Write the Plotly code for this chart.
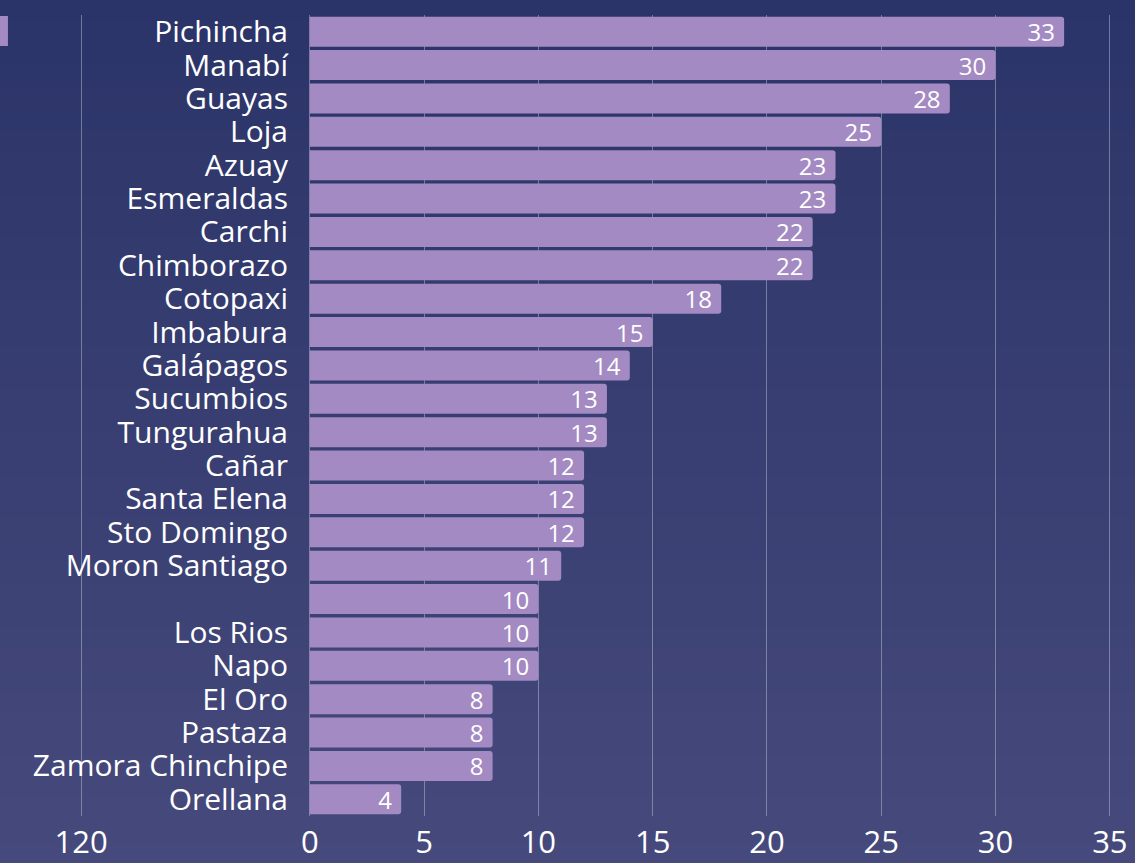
import plotly.graph_objects as go

# provinces, top to bottom as in the chart (one row has no name)
provincias = ["Pichincha", "Manabí", "Guayas", "Loja", "Azuay", "Esmeraldas",
              "Carchi", "Chimborazo", "Cotopaxi", "Imbabura", "Galápagos",
              "Sucumbios", "Tungurahua", "Cañar", "Santa Elena", "Sto Domingo",
              "Moron Santiago", " ", "Los Rios", "Napo", "El Oro", "Pastaza",
              "Zamora Chinchipe", "Orellana"]
valores = [33, 30, 28, 25, 23, 23, 22, 22, 18, 15, 14, 13, 13, 12, 12, 12,
           11, 10, 10, 10, 8, 8, 8, 4]

# x ticks (the leftmost one shows "120" in the original)
x_tickvals = [-10, 0, 5, 10, 15, 20, 25, 30, 35]
x_ticktext = ["120", "0", "5", "10", "15", "20", "25", "30", "35"]

bar_color = "#a38ac3"
top_bg = (43, 52, 104)
bottom_bg = (70, 73, 124)

W, H = 1135, 863
M_T, M_B = 15, 47

fig = go.Figure()
fig.add_trace(go.Bar(
    x=valores, y=provincias, orientation="h",
    marker=dict(color=bar_color, line=dict(width=0)),
    text=valores, texttemplate="%{x}\u00a0", textposition="inside",
    insidetextanchor="end", textangle=0,
    constraintext="none", cliponaxis=False,
    textfont=dict(color="white", size=24),
    showlegend=False,
))

# background: vertical gradient made of thin bands
plot_h = H - M_T - M_B
n_bands = 40
y_top = 1 + M_T / plot_h
y_bot = -M_B / plot_h
for i in range(n_bands):
    t = i / (n_bands - 1)
    c = tuple(round(top_bg[k] + (bottom_bg[k] - top_bg[k]) * t) for k in range(3))
    y1 = y_top - (y_top - y_bot) * i / n_bands
    y0 = y_top - (y_top - y_bot) * (i + 1) / n_bands
    fig.add_shape(type="rect", xref="paper", yref="paper",
                  x0=-0.01, x1=1.01, y0=y0 - 0.002, y1=y1,
                  fillcolor="rgb(%d,%d,%d)" % c, line=dict(width=0), layer="below")

# small clipped legend swatch at top left
fig.add_shape(type="rect", xref="paper", yref="paper",
              x0=-0.01, x1=0.007, y0=1 - 31 / plot_h, y1=1 - 1 / plot_h,
              fillcolor=bar_color, line=dict(width=0), layer="above")

fig.update_layout(
    width=W, height=H,
    margin=dict(l=0, r=0, t=M_T, b=M_B),
    paper_bgcolor="rgb(%d,%d,%d)" % top_bg, plot_bgcolor="rgba(0,0,0,0)",
    font=dict(family="Open Sans", color="white", size=30),
    bargap=0.1, barcornerradius=3,
    xaxis=dict(range=[-13.55, 36.1], tickvals=x_tickvals, ticktext=x_ticktext,
               showgrid=True, gridcolor="rgba(200,205,225,0.45)", gridwidth=1,
               zeroline=False, showline=False, ticks="", ticklabelstandoff=5,
               tickfont=dict(size=31, color="white")),
    yaxis=dict(autorange="reversed", anchor="free", position=0.2749,
               tickmode="array", tickvals=provincias,
               showgrid=False, zeroline=False, showline=False, ticks="",
               ticklabelstandoff=24,
               tickfont=dict(size=30, color="white")),
)

fig.write_html("out.html", config={"displayModeBar": False},
               post_script="document.body.style.margin='0px';")
